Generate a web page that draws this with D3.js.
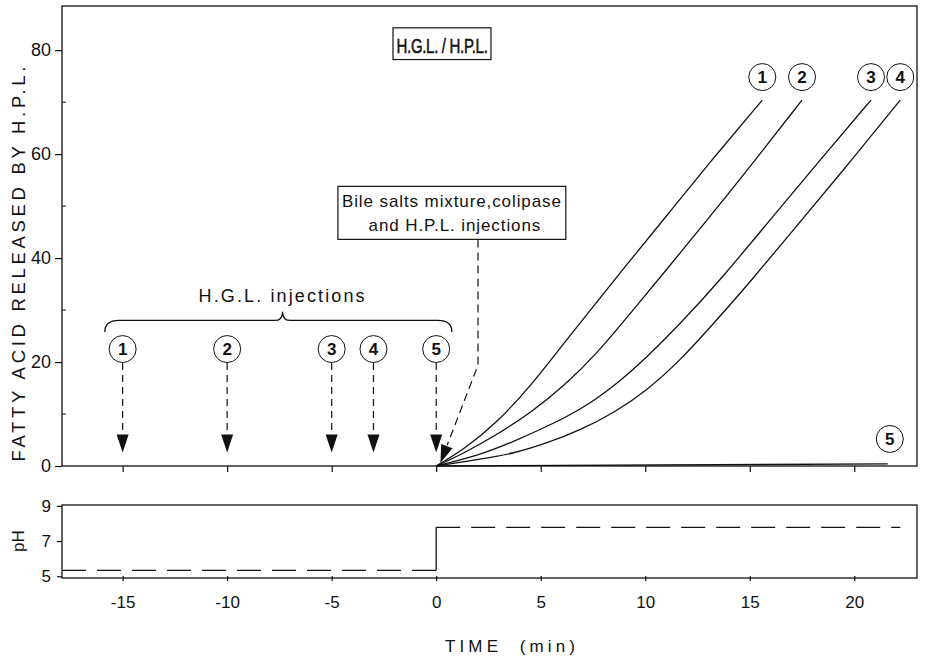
<!DOCTYPE html>
<html>
<head>
<meta charset="utf-8">
<script src="https://cdn.jsdelivr.net/npm/d3@7"></script>
<style>
  body { margin: 0; background: #fff; }
  svg text { font-family: "Liberation Sans", Arial, sans-serif; fill: #111; }
</style>
</head>
<body>
<svg id="chart"></svg>
<script>
// Curves: fatty acid released by H.P.L. vs time (min)
const time1 = [0, 1.3, 2.9, 4.5, 6.1, 7.7, 8.9, 11, 13, 15.6];
const fa1   = [0, 3.1, 8.3, 15.3, 23.6, 31.6, 37.7, 48, 58, 70.4];
const time2 = [0, 1.3, 2.9, 4.5, 6.1, 7.7, 9.3, 11, 13, 15, 17.5];
const fa2   = [0, 2.4, 6, 10.2, 15.3, 21.7, 29.4, 37.7, 47.5, 57.5, 70.4];
const time3 = [0, 2.1, 3.7, 5.3, 6.9, 8.5, 10.1, 11.7, 13.6, 16, 18.5, 20.8];
const fa3   = [0, 2.1, 4.7, 7.6, 10.8, 15.3, 21, 27.5, 35.8, 47.5, 59.5, 70.4];
const time4 = [0, 2.1, 3.7, 5.3, 6.9, 8.5, 10.1, 11.7, 13.4, 15.1, 17, 19.5, 22.2];
const fa4   = [0, 1.3, 2.4, 4.4, 6.9, 10.2, 14.6, 20.4, 28, 35.8, 45, 57, 70.4];
const time5 = [0, 21.6];
const fa5   = [0, 0.4];
const curveNames = ["1", "2", "3", "4", "5"];

// H.G.L. injection times
const injectTimes = [-15, -10, -5, -3, 0];
const injectNames = ["1", "2", "3", "4", "5"];

// pH trace
const phTimeLow = [-17.9, 0];
const phLow = 5.33;
const phTimeHigh = [0, 22.2];
const phHigh = 7.78;

// Ticks
const xTicks = [-15, -10, -5, 0, 5, 10, 15, 20];
const yTicks = [0, 20, 40, 60, 80];
const yMinor = [10, 30, 50, 70];
const phTicks = [5, 7, 9];

const width = 927, height = 660;
const svg = d3.select("#chart").attr("width", width).attr("height", height);

const x = d3.scaleLinear().domain([-17.9, 23]).range([62, 917]);
const y = d3.scaleLinear().domain([0, 88.5]).range([466, 6]);
const yPh = d3.scaleLinear().domain([4.9, 9.05]).range([578, 505]);

const ink = "#111";
const fmt = d => String(d); // plain hyphen for negatives, like the original

// Panel frames
svg.append("rect").attr("x", x(-17.9)).attr("y", y(88.5))
  .attr("width", x(23) - x(-17.9)).attr("height", y(0) - y(88.5))
  .attr("fill", "none").attr("stroke", ink).attr("stroke-width", 1.3);
svg.append("rect").attr("x", x(-17.9)).attr("y", yPh(9.05))
  .attr("width", x(23) - x(-17.9)).attr("height", yPh(4.9) - yPh(9.05))
  .attr("fill", "none").attr("stroke", ink).attr("stroke-width", 1.3);

// Main panel axes
const xAxisTop = d3.axisBottom(x).tickValues(xTicks).tickSize(6).tickFormat("");
svg.append("g").attr("transform", `translate(0,${y(0)})`).call(xAxisTop)
  .call(g => g.select(".domain").remove());

const yAxis = d3.axisLeft(y).tickValues(yTicks).tickSize(7).tickPadding(4).tickFormat(fmt);
svg.append("g").attr("transform", `translate(${x(-17.9)},0)`).call(yAxis)
  .call(g => g.select(".domain").remove())
  .call(g => g.selectAll("text").attr("font-size", 18).attr("font-family", "Liberation Sans, Arial"));

svg.append("g").selectAll("line").data(yMinor).join("line")
  .attr("x1", x(-17.9)).attr("x2", x(-17.9) + 4)
  .attr("y1", d => y(d)).attr("y2", d => y(d))
  .attr("stroke", ink);

// pH panel axes
const xAxis = d3.axisBottom(x).tickValues(xTicks).tickSize(5).tickPadding(15).tickFormat(fmt);
svg.append("g").attr("transform", `translate(0,${yPh(4.9) - 2})`).call(xAxis)
  .call(g => g.select(".domain").remove())
  .call(g => g.selectAll("text").attr("font-size", 17).attr("font-family", "Liberation Sans, Arial"));

const phAxis = d3.axisLeft(yPh).tickValues(phTicks).tickSize(5).tickPadding(6).tickFormat(fmt);
svg.append("g").attr("transform", `translate(${x(-17.9)},0)`).call(phAxis)
  .call(g => g.select(".domain").remove())
  .call(g => g.selectAll("text").attr("font-size", 17).attr("font-family", "Liberation Sans, Arial"));

// Axis titles
svg.append("text")
  .attr("transform", `translate(25,${(y(0) + y(88.5)) / 2 + 28}) rotate(-90)`)
  .attr("text-anchor", "middle").attr("font-size", 18.5)
  .attr("textLength", 395).attr("lengthAdjust", "spacing")
  .text("FATTY ACID RELEASED BY H.P.L.");
svg.append("text")
  .attr("transform", `translate(24,${yPh(7)}) rotate(-90)`)
  .attr("text-anchor", "middle").attr("font-size", 17)
  .text("pH");
svg.append("text")
  .attr("x", 510).attr("y", 652).attr("text-anchor", "middle")
  .attr("font-size", 17).attr("xml:space", "preserve")
  .attr("textLength", 130).attr("lengthAdjust", "spacing")
  .text("TIME  (min)");

// Fatty acid curves
const line = d3.line().x(d => x(d[0])).y(d => y(d[1])).curve(d3.curveBasis);
const series = [
  [time1, fa1], [time2, fa2], [time3, fa3], [time4, fa4], [time5, fa5]
].map(([t, v]) => t.map((ti, i) => [ti, v[i]]));

svg.append("g").selectAll("path").data(series).join("path")
  .attr("d", line).attr("fill", "none").attr("stroke", ink).attr("stroke-width", 1.3);

// Circled label helper
function circled(cx, cy, label) {
  const g = svg.append("g");
  g.append("circle").attr("cx", cx).attr("cy", cy).attr("r", 13.5)
    .attr("fill", "#fff").attr("stroke", ink).attr("stroke-width", 1);
  g.append("text").attr("x", cx).attr("y", cy + 6).attr("text-anchor", "middle")
    .attr("font-size", 17).attr("font-weight", "bold").text(label);
}

// Curve-end labels
series.slice(0, 4).forEach((s, i) => {
  const end = s[s.length - 1];
  circled(x(end[0]), y(end[1]) - 23, curveNames[i]);
});
circled(x(21.7), y(5.2), curveNames[4]);

// Arrowhead helper (tip at px,py, pointing along angle)
function arrowHead(px, py, ang) {
  const len = 18, half = 6;
  const ca = Math.cos(ang), sa = Math.sin(ang);
  const bx = px - len * ca, by = py - len * sa;
  const pts = [[px, py], [bx - half * sa, by + half * ca], [bx + half * sa, by - half * ca]];
  svg.append("path").attr("d", "M" + pts.map(p => p.join(",")).join("L") + "Z")
    .attr("fill", ink);
}

// H.G.L. injection markers
injectTimes.forEach((t, i) => {
  const cx = x(t), cy = y(22.5);
  circled(cx, cy, injectNames[i]);
  svg.append("line").attr("x1", cx).attr("x2", cx)
    .attr("y1", cy + 14).attr("y2", y(2.6) - 12)
    .attr("stroke", ink).attr("stroke-width", 1.2).attr("stroke-dasharray", "7,5");
  arrowHead(cx, y(2.6), Math.PI / 2);
});

// Brace over injections
const bL = x(-15.85), bR = x(0.75), bM = x(-7.35), bY = y(28), bTop = y(29.7), bEnd = y(25.8);
svg.append("path")
  .attr("d", `M${bL},${bEnd} Q${bL},${bY} ${bL + 14},${bY} L${bM - 8},${bY} Q${bM},${bY} ${bM},${bTop} Q${bM},${bY} ${bM + 8},${bY} L${bR - 14},${bY} Q${bR},${bY} ${bR},${bEnd}`)
  .attr("fill", "none").attr("stroke", ink).attr("stroke-width", 1.3);
svg.append("text").attr("x", bM - 1).attr("y", y(31.6)).attr("text-anchor", "middle")
  .attr("font-size", 18).attr("textLength", 166).attr("lengthAdjust", "spacing")
  .text("H.G.L. injections");

// Bile salts box + leader
const boxL = x(-4.7), boxR = x(6.2), boxT = y(53.8), boxB = y(43.6);
svg.append("rect").attr("x", boxL).attr("y", boxT).attr("width", boxR - boxL).attr("height", boxB - boxT)
  .attr("fill", "#fff").attr("stroke", ink).attr("stroke-width", 1.2);
svg.append("text").attr("x", (boxL + boxR) / 2).attr("y", boxT + 21).attr("text-anchor", "middle")
  .attr("font-size", 17).attr("letter-spacing", 0.9).text("Bile salts mixture,colipase");
svg.append("text").attr("x", (boxL + boxR) / 2 + 3).attr("y", boxT + 45).attr("text-anchor", "middle")
  .attr("font-size", 17).attr("letter-spacing", 0.9).text("and H.P.L. injections");

const tipX = x(0.2), tipY = y(0.6);
const kneeX = x(2), kneeY = y(19.4);
svg.append("path")
  .attr("d", `M${kneeX},${boxB} L${kneeX},${kneeY} L${tipX + (kneeX - tipX) * 0.18},${tipY + (kneeY - tipY) * 0.18}`)
  .attr("fill", "none").attr("stroke", ink).attr("stroke-width", 1.2).attr("stroke-dasharray", "8,5");
arrowHead(tipX, tipY, Math.atan2(tipY - kneeY, tipX - kneeX));

// H.G.L. / H.P.L. box (text stretched vertically, the original face is condensed)
svg.append("rect").attr("x", 393).attr("y", y(84.3)).attr("width", 98).attr("height", y(78.2) - y(84.3))
  .attr("fill", "none").attr("stroke", ink).attr("stroke-width", 1.2);
svg.append("text")
  .attr("transform", `translate(442,${y(79.5)}) scale(1,1.3)`)
  .attr("text-anchor", "middle")
  .style("font-size", "15px").attr("stroke", ink).attr("stroke-width", 0.4)
  .attr("letter-spacing", -0.3)
  .text("H.G.L. / H.P.L.");

// pH trace
const phLine = d3.line().x(d => x(d[0])).y(d => yPh(d[1]));
svg.append("path").attr("d", phLine(phTimeLow.map(t => [t, phLow])))
  .attr("fill", "none").attr("stroke", ink).attr("stroke-width", 1.3).attr("stroke-dasharray", "24,11");
svg.append("path").attr("d", phLine([[0, phLow], [0, phHigh]]))
  .attr("fill", "none").attr("stroke", ink).attr("stroke-width", 1.3);
svg.append("path").attr("d", phLine(phTimeHigh.map(t => [t, phHigh])))
  .attr("fill", "none").attr("stroke", ink).attr("stroke-width", 1.3).attr("stroke-dasharray", "24,11");

svg.selectAll(".tick line").attr("stroke", ink).attr("stroke-width", 1.2);
</script>
</body>
</html>
